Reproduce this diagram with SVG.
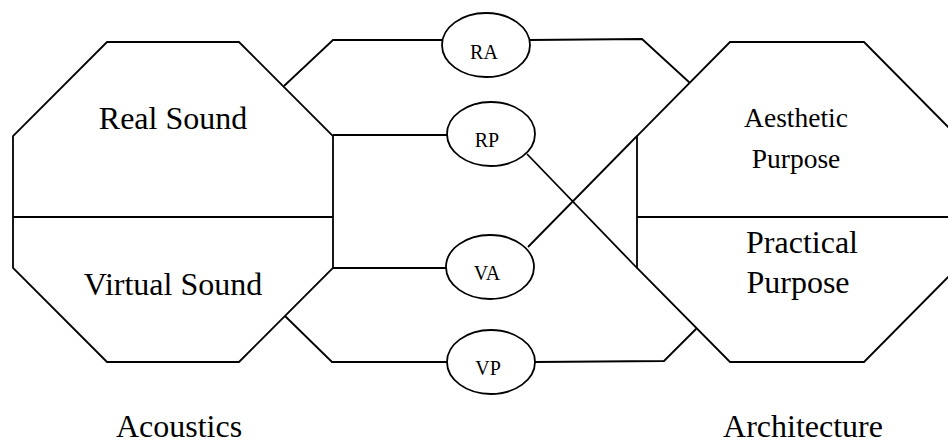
<svg xmlns="http://www.w3.org/2000/svg" width="948" height="444" viewBox="0 0 948 444">
<style>
.s{fill:none;stroke:#000;stroke-width:1.8;stroke-linejoin:miter}
.o{fill:#fff;stroke:#000;stroke-width:1.8}
.t{fill:#000;text-anchor:middle}
.big{font-size:32px}
.mid{font-size:27.5px}
.sm{font-size:20px}
</style>
<rect width="948" height="444" fill="#fff"/>
<g font-family="'Liberation Serif', 'Times New Roman', 'DejaVu Serif', serif">
<g id="acoustics">
<polygon class="s" points="107,42 239,42 333,136 333,268 239,362 107,362 13,268 13,136"/>
<line class="s" x1="13" y1="217" x2="333" y2="217"/>
<text class="t big" x="173" y="129">Real Sound</text>
<text class="t big" x="173" y="295">Virtual Sound</text>
<text class="t big" x="179" y="437">Acoustics</text>
</g>
<g id="architecture">
<polygon class="s" points="730,42 864,42 957,136 957,268 864,362 730,362 637,268 637,136"/>
<line class="s" x1="637" y1="217" x2="948" y2="217"/>
<text class="t mid" x="796" y="127">Aesthetic</text>
<text class="t mid" x="796" y="168">Purpose</text>
<text class="t big" x="802" y="253">Practical</text>
<text class="t big" x="798" y="293">Purpose</text>
<text class="t big" x="803" y="437">Architecture</text>
</g>
<g id="connectors">
<polyline class="s" points="284,86 333,40 442,40"/>
<polyline class="s" points="530,40 642,39 690,83"/>
<line class="s" x1="333" y1="135" x2="447" y2="135"/>
<line class="s" x1="527" y1="154" x2="637" y2="268"/>
<line class="s" x1="333" y1="268" x2="446" y2="268"/>
<line class="s" x1="528" y1="247" x2="637" y2="136"/>
<polyline class="s" points="285,316 332,362 447,362"/>
<polyline class="s" points="535,362 664,361 697,328"/>
</g>
<g id="RA">
<ellipse class="o" cx="486" cy="45" rx="44" ry="32"/>
<text class="t sm" x="484" y="59">RA</text>
</g>
<g id="RP">
<ellipse class="o" cx="491" cy="134" rx="44" ry="32"/>
<text class="t sm" x="487" y="147">RP</text>
</g>
<g id="VA">
<ellipse class="o" cx="490" cy="267" rx="44" ry="32"/>
<text class="t sm" x="487" y="280">VA</text>
</g>
<g id="VP">
<ellipse class="o" cx="491" cy="362" rx="44" ry="32"/>
<text class="t sm" x="488" y="375">VP</text>
</g>
</g>
</svg>
